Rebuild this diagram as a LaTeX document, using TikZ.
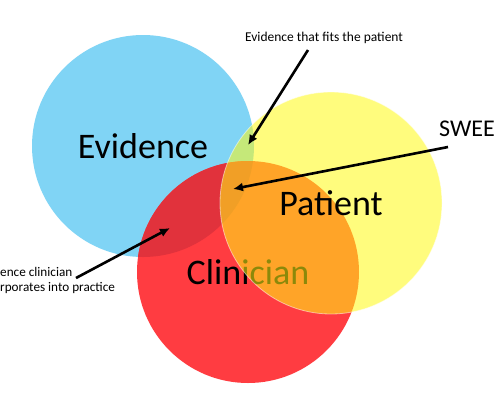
\documentclass[tikz,border=0pt]{standalone}
\usepackage{fontspec}
\setmainfont{Carlito}
\usetikzlibrary{arrows.meta}
\definecolor{evblue}{RGB}{128,212,245}
\definecolor{clred}{RGB}{255,60,65}
\definecolor{clreddark}{RGB}{225,50,60}
\definecolor{payellow}{RGB}{255,250,20}

\begin{document}
\begin{tikzpicture}[x=1pt, y=-1pt,
  bigset/.style={circle, minimum size=222pt, inner sep=0pt, font=\fontsize{36}{40}\selectfont},
  pointer/.style={line width=2.6pt, -{Latex[length=10pt, width=9pt]}}]
\useasboundingbox (0,0) rectangle (495,400);
\fill[white] (0,0) rectangle (495,400);
\node[bigset, fill=evblue] (evidence) at (143,146) {Evidence};
\node[bigset, fill=clred, path picture={\fill[clreddark] (evidence.center) circle (111pt);}] (clinician) at (248,272) {Clinician};
\node[bigset, fill=payellow, fill opacity=0.55, text opacity=1, draw=white, draw opacity=0.5, line width=0.8pt] (patient) at (331,203) {Patient};
\node[font=\fontsize{13.5}{16}\selectfont, inner sep=0pt] (fits) at (324,38) {Evidence that fits the patient};
\node[font=\fontsize{24}{28}\selectfont, inner sep=0pt, anchor=west] (swee) at (439,129) {SWEE};
\node[font=\fontsize{13.2}{15}\selectfont, inner sep=0pt, anchor=west, align=left] (incorp) at (0,280) {ence clinician\\rporates into practice};
\coordinate (fitstail) at (308,50);
\coordinate (fitstip) at (248,145);
\coordinate (sweetail) at (448,147);
\coordinate (sweetip) at (233,189);
\coordinate (incorptail) at (76,278);
\coordinate (incorptip) at (170,228);
\draw[pointer] (fitstail) -- (fitstip);
\draw[pointer] (sweetail) -- (sweetip);
\draw[pointer] (incorptail) -- (incorptip);
\end{tikzpicture}
\end{document}
